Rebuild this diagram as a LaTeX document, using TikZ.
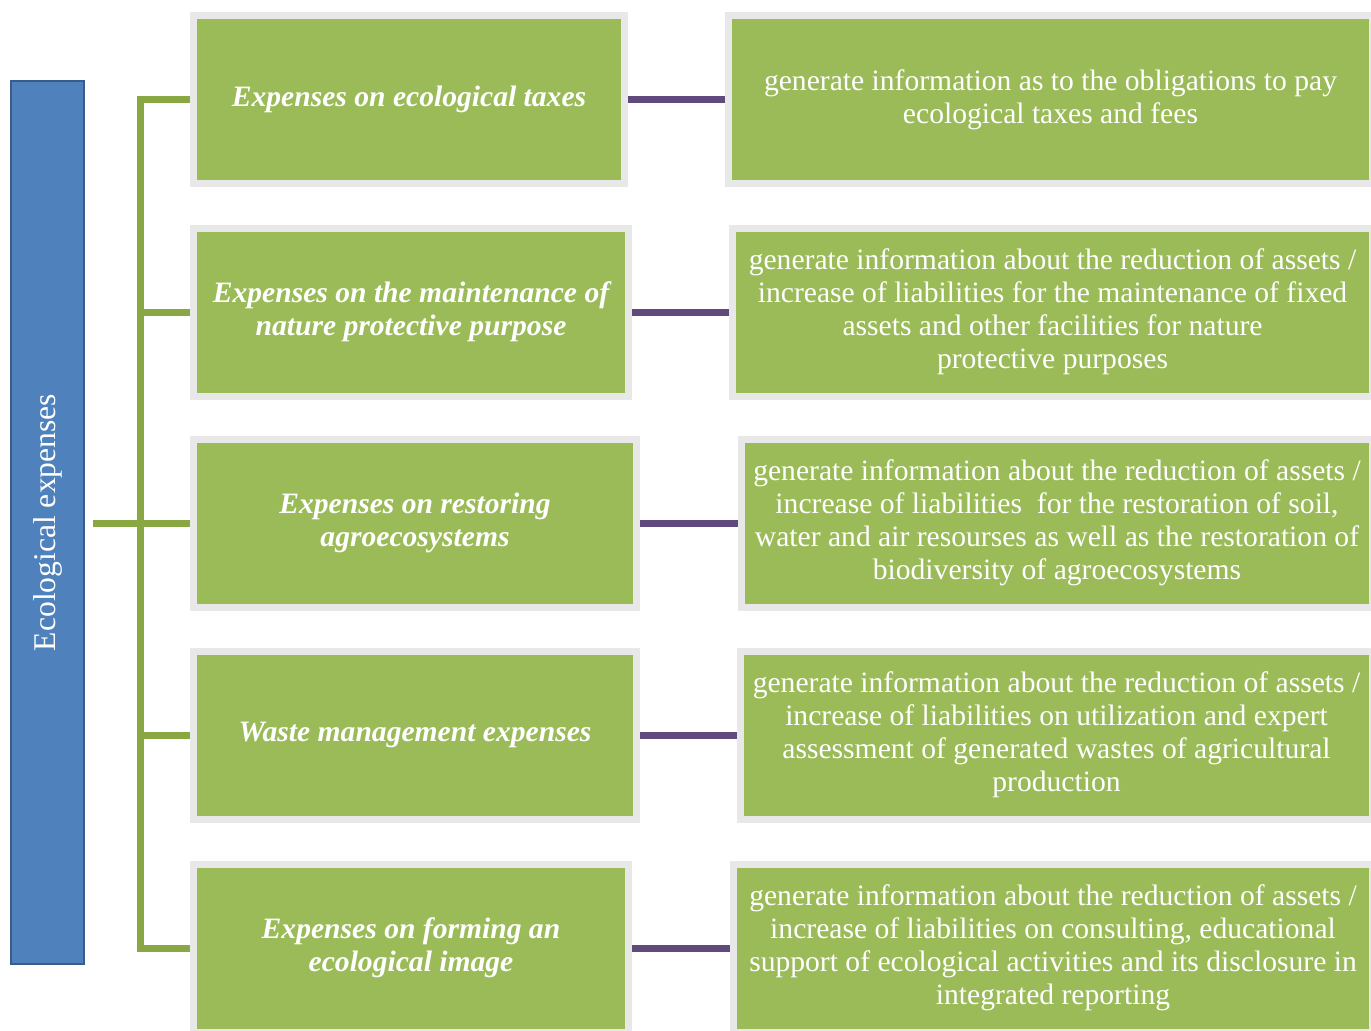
\documentclass[tikz,border=0pt]{standalone}
\usepackage{fontspec}
\setmainfont{Liberation Serif}
\definecolor{leafgreen}{RGB}{155,187,89}
\definecolor{branchgreen}{RGB}{137,168,67}
\definecolor{framegray}{RGB}{232,232,232}
\definecolor{linkpurple}{RGB}{96,73,123}
\definecolor{barblue}{RGB}{79,129,189}
\definecolor{bardark}{RGB}{56,93,138}
\begin{document}
\begin{tikzpicture}[x=0.5pt, y=-0.5pt,
    framed/.style={draw=framegray, fill=leafgreen, line width=3.5pt, inner sep=0pt,
      minimum height=84pt, text=white, align=center,
      font=\fontsize{14.8}{16.5}\selectfont},
    expbox/.style={framed, font=\fontsize{14.8}{16.5}\selectfont\bfseries\itshape},
    infobox/.style={framed},
    branch/.style={draw=branchgreen, line width=3.5pt},
    link/.style={draw=linkpurple, line width=3.5pt}]
        \useasboundingbox (0,0) rectangle (1371,1030);

        \node[draw=bardark, fill=barblue, line width=0.6pt, rotate=90, minimum width=441.5pt,
          minimum height=36.5pt, text=white, font=\fontsize{15.8}{16.5}\selectfont] (bar) at (47.5,522.5) {Ecological expenses};

        \node[expbox, minimum width=215.5pt] (E1) at (409,99.5) {Expenses on ecological taxes};
        \node[expbox, minimum width=217.5pt] (E2) at (411,312) {Expenses on the maintenance of\\ nature protective purpose};
        \node[expbox, minimum width=221.5pt] (E3) at (415,523) {Expenses on restoring\\ agroecosystems};
        \node[expbox, minimum width=221.5pt] (E4) at (415,735) {Waste management expenses};
        \node[expbox, minimum width=217.5pt] (E5) at (411,948) {Expenses on forming an\\ ecological image};

        \node[infobox, minimum width=322pt] (I1) at (1050.5,99.5) {generate information as to the obligations to pay\\ ecological taxes and fees};
        \node[infobox, minimum width=320pt] (I2) at (1052.5,312) {generate information about the reduction of assets /\\ increase of liabilities for the maintenance of fixed\\ assets and other facilities for nature\\ protective purposes};
        \node[infobox, minimum width=315.5pt] (I3) at (1057,523) {generate information about the reduction of assets /\\ increase of liabilities \ for the restoration of soil,\\ water and air resourses as well as the restoration of\\ biodiversity of agroecosystems};
        \node[infobox, minimum width=316pt] (I4) at (1056.5,735) {generate information about the reduction of assets /\\ increase of liabilities on utilization and expert\\ assessment of generated wastes of agricultural\\ production};
        \node[infobox, minimum width=319.5pt] (I5) at (1053,948) {generate information about the reduction of assets /\\ increase of liabilities on consulting, educational\\ support of ecological activities and its disclosure in\\ integrated reporting};

        \coordinate (trunk) at (140,0);
        \path[branch] (E1.west) -| (trunk |- E5.west) -- (E5.west);
        \path[branch] (E2.west) -- (trunk |- E2.west);
        \path[branch] (E4.west) -- (trunk |- E4.west);
        \path[branch, shorten <=4pt] (bar.south |- E3.west) -- (E3.west);

        \path[link] (E1) -- (I1);
        \path[link] (E2) -- (I2);
        \path[link] (E3) -- (I3);
        \path[link] (E4) -- (I4);
        \path[link] (E5) -- (I5);
      \end{tikzpicture}
\end{document}
